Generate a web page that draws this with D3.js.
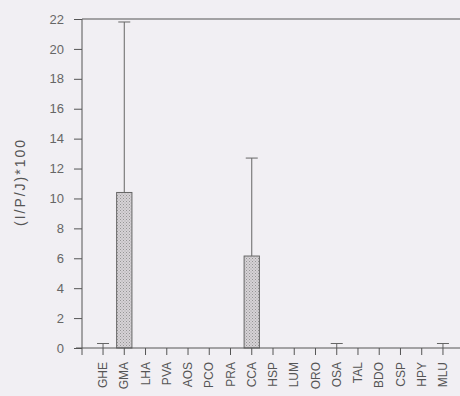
<!DOCTYPE html>
<html>
<head>
  <meta charset="utf-8">
  <script src="https://d3js.org/d3.v7.min.js"></script>
  <style>
    body { margin:0; background:#f1eff3; }
    text { font-family: "Liberation Sans", Arial, sans-serif; fill:#555; }
  </style>
</head>
<body>
<script>
  const width = 460;
  const height = 396;
  const margin = { top: 19, right: 5, bottom: 48, left: 82 };

  // species codes on the x axis
  const species = ["GHE","GMA","LHA","PVA","AOS","PCO","PRA","CCA","HSP","LUM","ORO","OSA","TAL","BDO","CSP","HPY","MLU"];
  // mean (I/P/J)*100 and upper error
  const means  = [0, 10.4, 0, 0, 0, 0, 0, 6.15, 0, 0, 0, 0, 0, 0, 0, 0, 0];
  const errTop = [0.3, 21.8, null, null, null, null, null, 12.7, null, null, null, 0.3, null, null, null, null, 0.3];
  const yTicks = [0, 2, 4, 6, 8, 10, 12, 14, 16, 18, 20, 22];

  const data = species.map((s, i) => ({ s, v: means[i], e: errTop[i] }));

  const svg = d3.select("body").append("svg")
    .attr("width", width)
    .attr("height", height);

  const defs = svg.append("defs");
  const pat = defs.append("pattern")
    .attr("id", "hatch")
    .attr("patternUnits", "userSpaceOnUse")
    .attr("width", 3).attr("height", 3);
  pat.append("rect").attr("width", 3).attr("height", 3).attr("fill", "#d6d2d6");
  pat.append("rect").attr("x", 0).attr("y", 0).attr("width", 1).attr("height", 1).attr("fill", "#959595");
  pat.append("rect").attr("x", 1.5).attr("y", 1.5).attr("width", 1).attr("height", 1).attr("fill", "#a5a5a5");

  const x = d3.scaleBand()
    .domain(species)
    .range([margin.left, 464])
    .paddingInner(0.28)
    .paddingOuter(0.63);

  const y = d3.scaleLinear()
    .domain([0, 22])
    .range([height - margin.bottom, margin.top]);

  // top frame line
  svg.append("line")
    .attr("x1", margin.left).attr("x2", width)
    .attr("y1", y(22)).attr("y2", y(22))
    .attr("stroke", "#555").attr("stroke-width", 1.2);

  // bars
  svg.selectAll(".bar")
    .data(data.filter(d => d.v > 0))
    .enter().append("rect")
    .attr("class", "bar")
    .attr("x", d => x(d.s))
    .attr("width", x.bandwidth())
    .attr("y", d => y(d.v))
    .attr("height", d => y(0) - y(d.v))
    .attr("fill", "url(#hatch)")
    .attr("stroke", "#666")
    .attr("stroke-width", 1);

  // error bars
  const eb = svg.selectAll(".err")
    .data(data.filter(d => d.e != null))
    .enter().append("g")
    .attr("class", "err");
  eb.append("line")
    .attr("x1", d => x(d.s) + x.bandwidth() / 2)
    .attr("x2", d => x(d.s) + x.bandwidth() / 2)
    .attr("y1", d => y(d.v))
    .attr("y2", d => y(d.e))
    .attr("stroke", "#666");
  eb.append("line")
    .attr("x1", d => x(d.s) + x.bandwidth() / 2 - 6)
    .attr("x2", d => x(d.s) + x.bandwidth() / 2 + 6)
    .attr("y1", d => y(d.e))
    .attr("y2", d => y(d.e))
    .attr("stroke", "#666");

  // y axis
  const yAxis = svg.append("g")
    .attr("transform", `translate(${margin.left},0)`)
    .call(d3.axisLeft(y).tickValues(yTicks).tickSize(8).tickPadding(10));
  yAxis.select(".domain").attr("stroke", "#555").attr("d", `M0,${y(22)}V${y(0) + 7}`);
  yAxis.selectAll(".tick line").attr("stroke", "#555");
  yAxis.selectAll("text").attr("font-size", 13).style("fill", "#666");

  // x axis
  const xAxis = svg.append("g")
    .attr("transform", `translate(0,${y(0)})`)
    .call(d3.axisBottom(x).tickSize(7).tickPadding(3));
  xAxis.select(".domain").attr("stroke", "#555").attr("d", `M${margin.left - 6},0H${width}`);
  xAxis.selectAll(".tick line").attr("stroke", "#555");
  xAxis.selectAll("text")
    .attr("font-size", 12)
    .style("fill", "#555")
    .attr("transform", "rotate(-90)")
    .attr("text-anchor", "end")
    .attr("x", -14)
    .attr("y", 0)
    .attr("dy", "0.35em");

  // y axis title
  svg.append("text")
    .attr("transform", `translate(20,183) rotate(-90)`)
    .attr("text-anchor", "middle")
    .attr("dy", "0.35em")
    .attr("font-size", 14)
    .attr("textLength", 86)
    .text("(I/P/J)*100");
</script>
</body>
</html>
